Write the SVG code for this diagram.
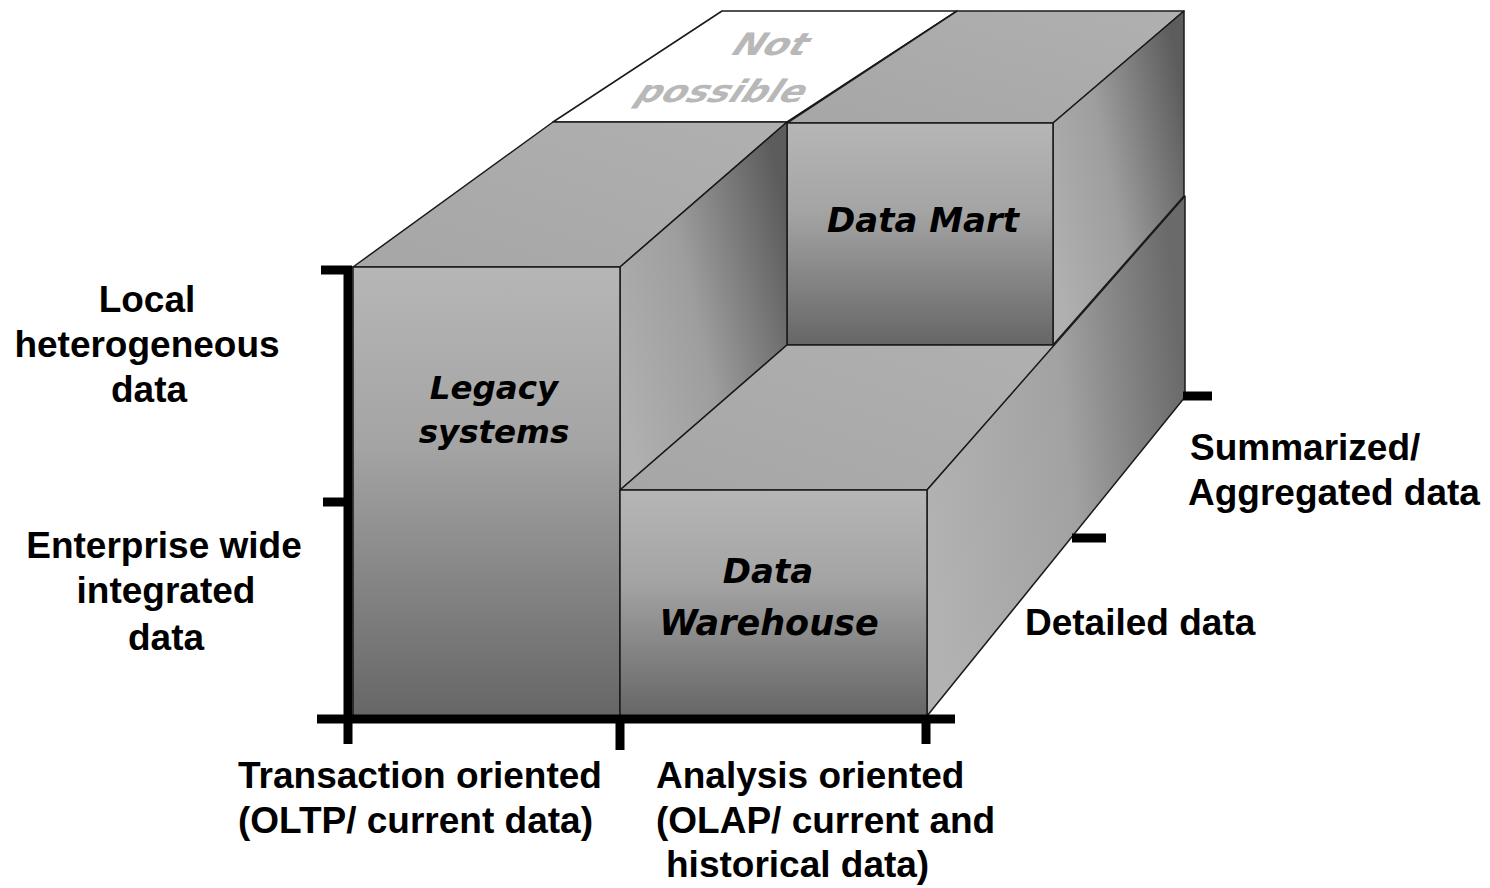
<svg xmlns="http://www.w3.org/2000/svg" width="1490" height="888" viewBox="0 0 1490 888">
<defs>
<linearGradient id="gFront" x1="0" y1="0" x2="0" y2="1">
<stop offset="0" stop-color="#b6b6b6"/>
<stop offset="0.4" stop-color="#a4a4a4"/>
<stop offset="1" stop-color="#666666"/>
</linearGradient>
<linearGradient id="gTop" x1="0" y1="1" x2="1" y2="0">
<stop offset="0" stop-color="#a6a6a6"/>
<stop offset="1" stop-color="#b0b0b0"/>
</linearGradient>
<linearGradient id="gSide" x1="0" y1="0.75" x2="1" y2="0.25">
<stop offset="0" stop-color="#b0b0b0"/>
<stop offset="0.45" stop-color="#9e9e9e"/>
<stop offset="1" stop-color="#5c5c5c"/>
</linearGradient>
<linearGradient id="gSideDW" x1="0" y1="0.6" x2="1" y2="0.4">
<stop offset="0" stop-color="#b2b2b2"/>
<stop offset="0.55" stop-color="#a2a2a2"/>
<stop offset="1" stop-color="#6a6a6a"/>
</linearGradient>
</defs>
<style>
.face{stroke:#1a1a1a;stroke-width:1.5;stroke-linejoin:round}
.front{fill:url(#gFront)}
.top{fill:url(#gTop)}
.side{fill:url(#gSide)}
.box{font-family:"DejaVu Sans","Verdana",sans-serif;font-weight:bold;font-style:italic;font-size:34px;fill:#000;text-anchor:middle}
.box.sm{font-size:32.5px}
.box.lg{font-size:35px}
.lbl{font-family:"Liberation Sans","Arial",sans-serif;font-weight:bold;font-size:37px;fill:#000}
.mid{text-anchor:middle}
.ax{stroke:#000;stroke-width:9;fill:none}
.np{font-family:"DejaVu Sans","Verdana",sans-serif;font-weight:bold;font-size:31px;fill:#b8b8b8}
</style>
<rect width="1490" height="888" fill="#ffffff"/>

<g id="not-possible">
<polygon class="face" points="553,122 787,122 957,11 722,11" fill="#ffffff"/>
<text class="np" transform="translate(728,55) skewX(-34)" x="0" y="0" textLength="74" lengthAdjust="spacingAndGlyphs">Not</text>
<text class="np" transform="translate(632,102) skewX(-34)" x="0" y="0" textLength="168" lengthAdjust="spacingAndGlyphs">possible</text>
</g>

<g id="data-mart">
<polygon class="face top" points="787,123 1053,123 1184,11 957,11"/>
<polygon class="face side" points="1053,123 1184,11 1184,196 1053,345"/>
<rect class="face front" x="787" y="123" width="266" height="222"/>
<text class="box" x="923" y="232">Data Mart</text>
</g>

<g id="legacy-systems">
<polygon class="face top" points="353,267 620,267 787,122 553,122"/>
<polygon class="face side" points="620,267 787,122 787,345 620,490"/>
<rect class="face front" x="353" y="267" width="267" height="449"/>
<text class="box sm" x="494" y="399">Legacy</text>
<text class="box sm" x="494" y="443">systems</text>
</g>

<g id="data-warehouse">
<polygon class="face top" points="620,490 927,490 1055,345 787,345"/>
<polygon class="face" fill="url(#gSideDW)" points="927,490 1185,196 1185,397 927,716"/>
<rect class="face front" x="620" y="490" width="307" height="226"/>
<text class="box" x="768" y="583">Data</text>
<text class="box lg" x="769" y="635">Warehouse</text>
</g>

<g id="axes">
<line class="ax" x1="348" y1="266" x2="348" y2="723"/>
<line class="ax" x1="321" y1="270" x2="352" y2="270"/>
<line class="ax" x1="323" y1="502" x2="352" y2="502"/>
<line class="ax" x1="317" y1="719" x2="955" y2="719"/>
<line class="ax" x1="348" y1="719" x2="348" y2="744"/>
<line class="ax" x1="620" y1="719" x2="620" y2="750"/>
<line class="ax" x1="926" y1="719" x2="926" y2="744"/>
<line class="ax" x1="1183" y1="396" x2="1212" y2="396"/>
<line class="ax" x1="1072" y1="538" x2="1106" y2="538"/>
</g>

<g id="labels">
<text class="lbl mid" x="147" y="312">Local</text>
<text class="lbl mid" x="147" y="357">heterogeneous</text>
<text class="lbl mid" x="149" y="402">data</text>
<text class="lbl mid" x="164" y="558">Enterprise wide</text>
<text class="lbl mid" x="166" y="603">integrated</text>
<text class="lbl mid" x="166" y="650">data</text>
<text class="lbl" x="1190" y="460">Summarized/</text>
<text class="lbl" x="1188" y="505">Aggregated data</text>
<text class="lbl" x="1025" y="635">Detailed data</text>
<text class="lbl" x="238" y="788">Transaction oriented</text>
<text class="lbl" x="238" y="833">(OLTP/ current data)</text>
<text class="lbl" x="656" y="788">Analysis oriented</text>
<text class="lbl" x="656" y="833">(OLAP/ current and</text>
<text class="lbl" x="666" y="877">historical data)</text>
</g>
</svg>
